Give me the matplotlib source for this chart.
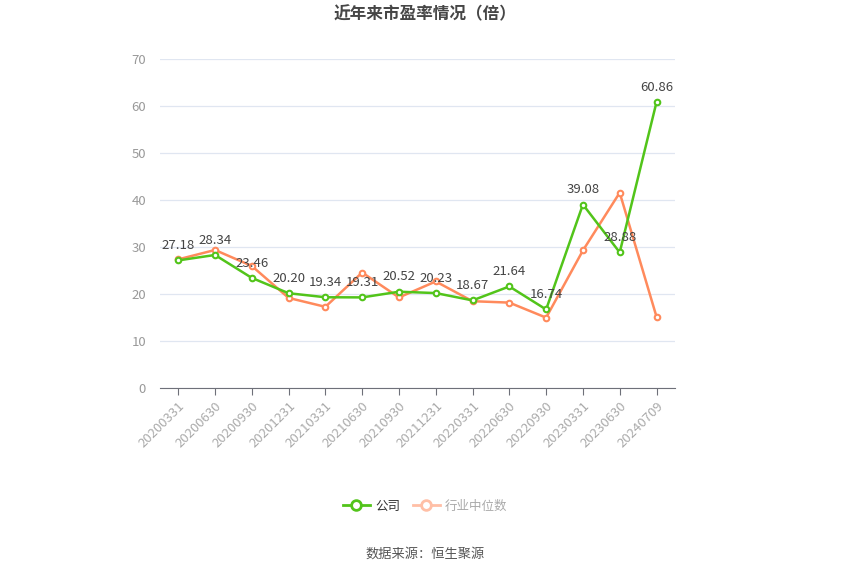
import matplotlib
matplotlib.use("Agg")
import matplotlib.pyplot as plt
from matplotlib.lines import Line2D

plt.rcParams['font.family'] = ['Noto Sans CJK SC', 'DejaVu Sans']

categories = ["20200331", "20200630", "20200930", "20201231", "20210331", "20210630",
              "20210930", "20211231", "20220331", "20220630", "20220930", "20230331",
              "20230630", "20240709"]
company = [27.18, 28.34, 23.46, 20.20, 19.34, 19.31, 20.52, 20.23, 18.67, 21.64,
           16.74, 39.08, 28.88, 60.86]
industry = [27.4, 29.4, 26.0, 19.2, 17.3, 24.6, 19.3, 22.7, 18.5, 18.2, 15.0,
            29.3, 41.6, 15.2]
yticks = [0, 10, 20, 30, 40, 50, 60, 70]

green = '#52c41a'
orange = '#ff8a5c'

fig = plt.figure(figsize=(8.5, 5.75), dpi=100)
ax = fig.add_axes([0.188, 0.325, 0.606, 0.572])

x = list(range(len(categories)))
ax.plot(x, company, color=green, lw=1.8, marker='o', ms=4, mfc='white',
        mec=green, mew=1.5, zorder=3)
ax.plot(x, industry, color=orange, lw=1.8, marker='o', ms=4, mfc='white',
        mec=orange, mew=1.5, zorder=2)

for xi, v in zip(x, company):
    ax.annotate(f"{v:.2f}", (xi, v), xytext=(0, 6), textcoords='offset points',
                ha='center', va='bottom', fontsize=9.5, color='#444444', zorder=4)

ax.set_xlim(-0.5, len(categories) - 0.5)
ax.set_ylim(0, 70)
ax.set_yticks(yticks)
ax.set_yticklabels([str(t) for t in yticks], fontsize=9.5, color='#999999')
ax.set_xticks(x)
ax.set_xticklabels(categories, rotation=45, ha='right', rotation_mode='anchor',
                   fontsize=9.5, color='#aaaaaa')
ax.tick_params(axis='y', length=0, pad=10)
ax.tick_params(axis='x', length=5, color='#6e7079', pad=3)
ax.grid(axis='y', color='#e0e6f1', lw=0.9)
ax.set_axisbelow(True)
for s in ['top', 'right', 'left']:
    ax.spines[s].set_visible(False)
ax.spines['bottom'].set_color('#6e7079')

fig.text(0.5, 0.975, "近年来市盈率情况（倍）", ha='center', va='center',
         fontsize=12, fontweight='bold', color='#464646')

handles = [Line2D([0], [0], color=green, lw=2, marker='o', ms=7, mfc='white',
                  mec=green, mew=2),
           Line2D([0], [0], color='#ffbfa6', lw=2, marker='o', ms=7, mfc='white',
                  mec='#ffbfa6', mew=2)]
leg = fig.legend(handles, ["公司", "行业中位数"], loc='center', bbox_to_anchor=(0.5, 0.12),
                 ncol=2, frameon=False, fontsize=9, handlelength=2.2,
                 columnspacing=1.0, handletextpad=0.4)
leg.get_texts()[0].set_color('#333333')
leg.get_texts()[1].set_color('#aaaaaa')

fig.text(0.5, 0.036, "数据来源：恒生聚源", ha='center', va='center',
         fontsize=9.5, color='#555555')

fig.savefig("out.png", dpi=100)
